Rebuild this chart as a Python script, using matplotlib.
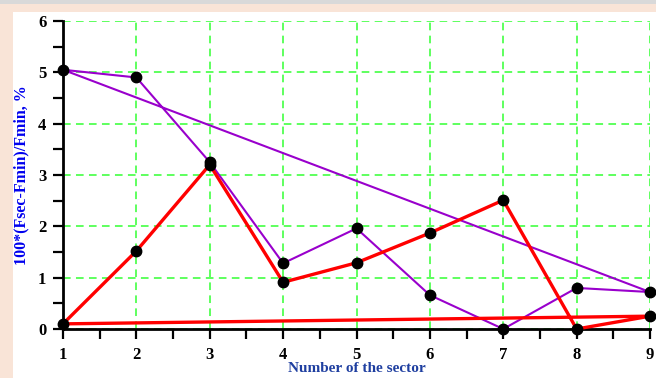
import matplotlib.pyplot as plt
from matplotlib.patches import Rectangle

# Data
sectors = [1, 2, 3, 4, 5, 6, 7, 8, 9]
purple_vals = [5.05, 4.9, 3.25, 1.28, 1.96, 0.66, 0.0, 0.8, 0.72]
red_vals = [0.1, 1.52, 3.2, 0.91, 1.29, 1.87, 2.51, 0.0, 0.25]
y_ticks = [0, 1, 2, 3, 4, 5, 6]

plt.rcParams["font.family"] = ["Liberation Serif", "DejaVu Serif"]
plt.rcParams["font.weight"] = "bold"

fig = plt.figure(figsize=(6.56, 3.78), dpi=100)
fig.patch.set_facecolor("white")

# page background strips around the white panel
fig.patches.append(Rectangle((0, 0), 13 / 656, 1, transform=fig.transFigure,
                             facecolor="#f9e4d7", edgecolor="none", zorder=0))
fig.patches.append(Rectangle((0, 1 - 12 / 378), 1, 12 / 378, transform=fig.transFigure,
                             facecolor="#f9e4d7", edgecolor="none", zorder=0))
fig.patches.append(Rectangle((0, 1 - 4 / 378), 1, 4 / 378, transform=fig.transFigure,
                             facecolor="#d9d9d9", edgecolor="none", zorder=0))

ax = fig.add_axes([63 / 656, 1 - 329 / 378, (650 - 63) / 656, (329 - 21) / 378])
ax.set_facecolor("none")

# closed loops: last point joins back to first
px = sectors + [sectors[0]]
ax.plot(px, purple_vals + [purple_vals[0]], color="#9900cc", lw=1.5, zorder=3, clip_on=False)
ax.plot(px, red_vals + [red_vals[0]], color="#ff0000", lw=2.4, zorder=4, clip_on=False)
ax.plot(sectors, purple_vals, "o", color="black", ms=7.5, zorder=5, clip_on=False)
ax.plot(sectors, red_vals, "o", color="black", ms=7.5, zorder=5, clip_on=False)

ax.set_xlim(1, 9)
ax.set_ylim(0, 6)
ax.set_xticks(sectors)
ax.set_yticks(y_ticks)
ax.set_xticks([s + 0.5 for s in sectors[:-1]], minor=True)
ax.set_yticks([t + 0.5 for t in y_ticks[:-1]], minor=True)

ax.grid(True, which="major", color="#33ff33", linestyle=(0, (5, 3.5)), lw=1.1)
ax.set_axisbelow(True)

for side in ["top", "right"]:
    ax.spines[side].set_visible(False)
for side in ["left", "bottom"]:
    ax.spines[side].set_linewidth(2)

ax.tick_params(which="both", direction="out", length=7, width=1.6, colors="black")
ax.tick_params(axis="x", which="major", labelsize=12, pad=6)
ax.tick_params(axis="y", which="major", labelsize=12, pad=5)
for lab in ax.get_xticklabels() + ax.get_yticklabels():
    lab.set_fontweight("bold")

ax.set_xlabel("Number of the sector", color="#1f3fa0", fontsize=11, fontweight="bold", labelpad=-1)
ax.set_ylabel("100*(Fsec-Fmin)/Fmin, %", color="#0000ee", fontsize=11.5, fontweight="bold", labelpad=6)

plt.savefig("out.png", dpi=100)
